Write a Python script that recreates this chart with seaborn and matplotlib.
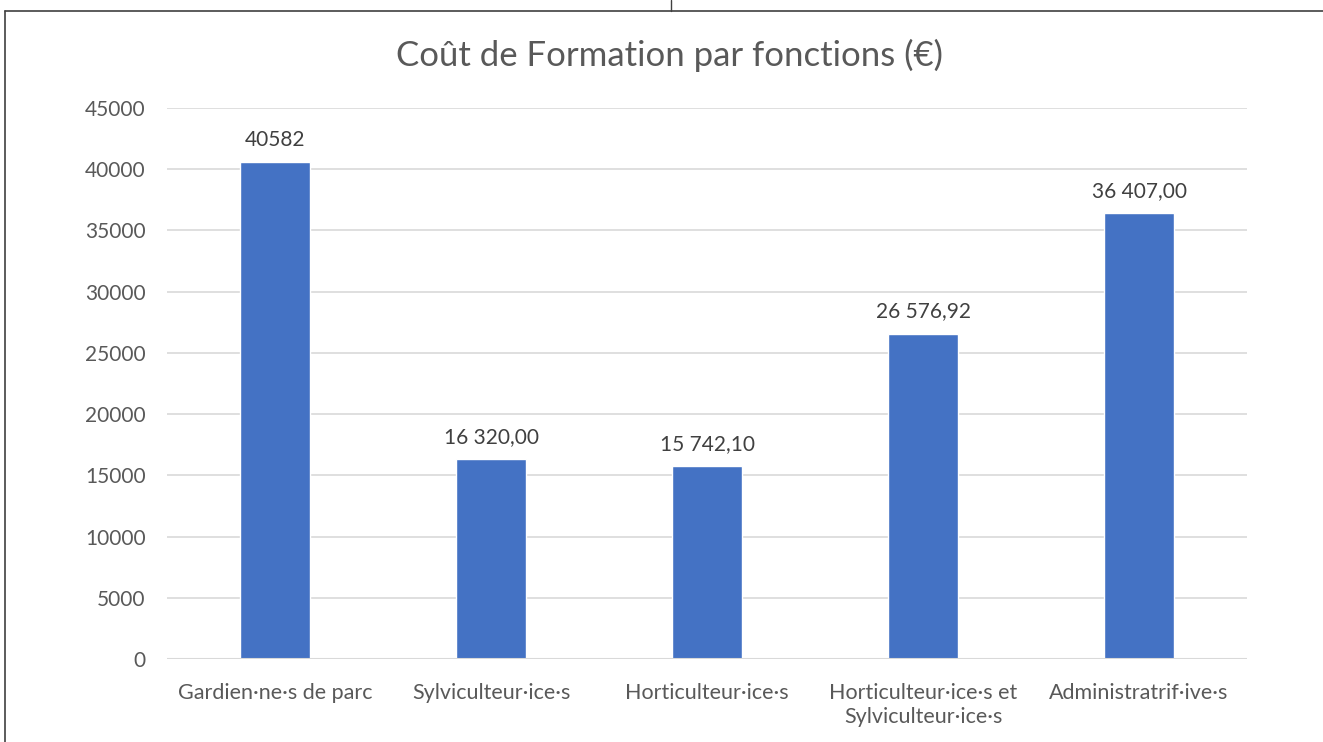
import pandas as pd
import matplotlib.pyplot as plt
import seaborn as sns
from matplotlib.lines import Line2D

# Données
fonctions = ['Gardien·ne·s de parc', 'Sylviculteur·ice·s', 'Horticulteur·ice·s',
             'Horticulteur·ice·s et\nSylviculteur·ice·s', 'Administratrif·ive·s']
couts = [40582, 16320.00, 15742.10, 26576.92, 36407.00]
etiquettes = ['40582', '16 320,00', '15 742,10', '26 576,92', '36 407,00']
yticks = [0, 5000, 10000, 15000, 20000, 25000, 30000, 35000, 40000, 45000]

base = pd.DataFrame({'fonction': fonctions, 'cout': couts})

sns.set_theme(style='white')
plt.rcParams['font.family'] = ['Lato', 'DejaVu Sans']
gris = '#595959'

fig = plt.figure(figsize=(13.23, 7.42), dpi=100)
ax = fig.add_axes([167 / 1323, 1 - 659 / 742, 1080 / 1323, 551 / 742])

sns.barplot(data=base, x='fonction', y='cout', color='#4472C4', width=0.32,
            saturation=1, ax=ax, zorder=3)

ax.set_ylim(0, 45000)
ax.set_yticks(yticks)
ax.set_yticklabels([str(v) for v in yticks])
ax.grid(axis='y', color='#D9D9D9', linewidth=1.2, zorder=0)
for s in ax.spines.values():
    s.set_visible(False)
ax.axhline(0, color='#D9D9D9', linewidth=1.5, zorder=4)
ax.tick_params(axis='y', length=0, labelsize=15, colors=gris, pad=15.5)
ax.tick_params(axis='x', length=0, labelsize=15.5, colors=gris, pad=17)
for lab in ax.get_xticklabels():
    lab.set_linespacing(1.25)
ax.set_xlabel('')
ax.set_ylabel('')

# étiquettes de données au-dessus des barres
for i, txt in enumerate(etiquettes):
    ax.annotate(txt, (i, couts[i]), xytext=(0, 9), textcoords='offset points',
                ha='center', va='bottom', fontsize=15, color='#404040')

fig.text(670 / 1323, 1 - 55 / 742, 'Coût de Formation par fonctions (€)',
         ha='center', va='center', fontsize=25, color=gris)

# bordures de la page
fig.add_artist(Line2D([5 / 1323, 5 / 1323], [0, 1 - 11 / 742], color='#404040', lw=1.2))
fig.add_artist(Line2D([5 / 1323, 1], [1 - 11 / 742, 1 - 11 / 742], color='#404040', lw=1.2))
fig.add_artist(Line2D([671 / 1323, 671 / 1323], [1 - 11 / 742, 1], color='#404040', lw=1))

plt.savefig('out.png', dpi=100)
